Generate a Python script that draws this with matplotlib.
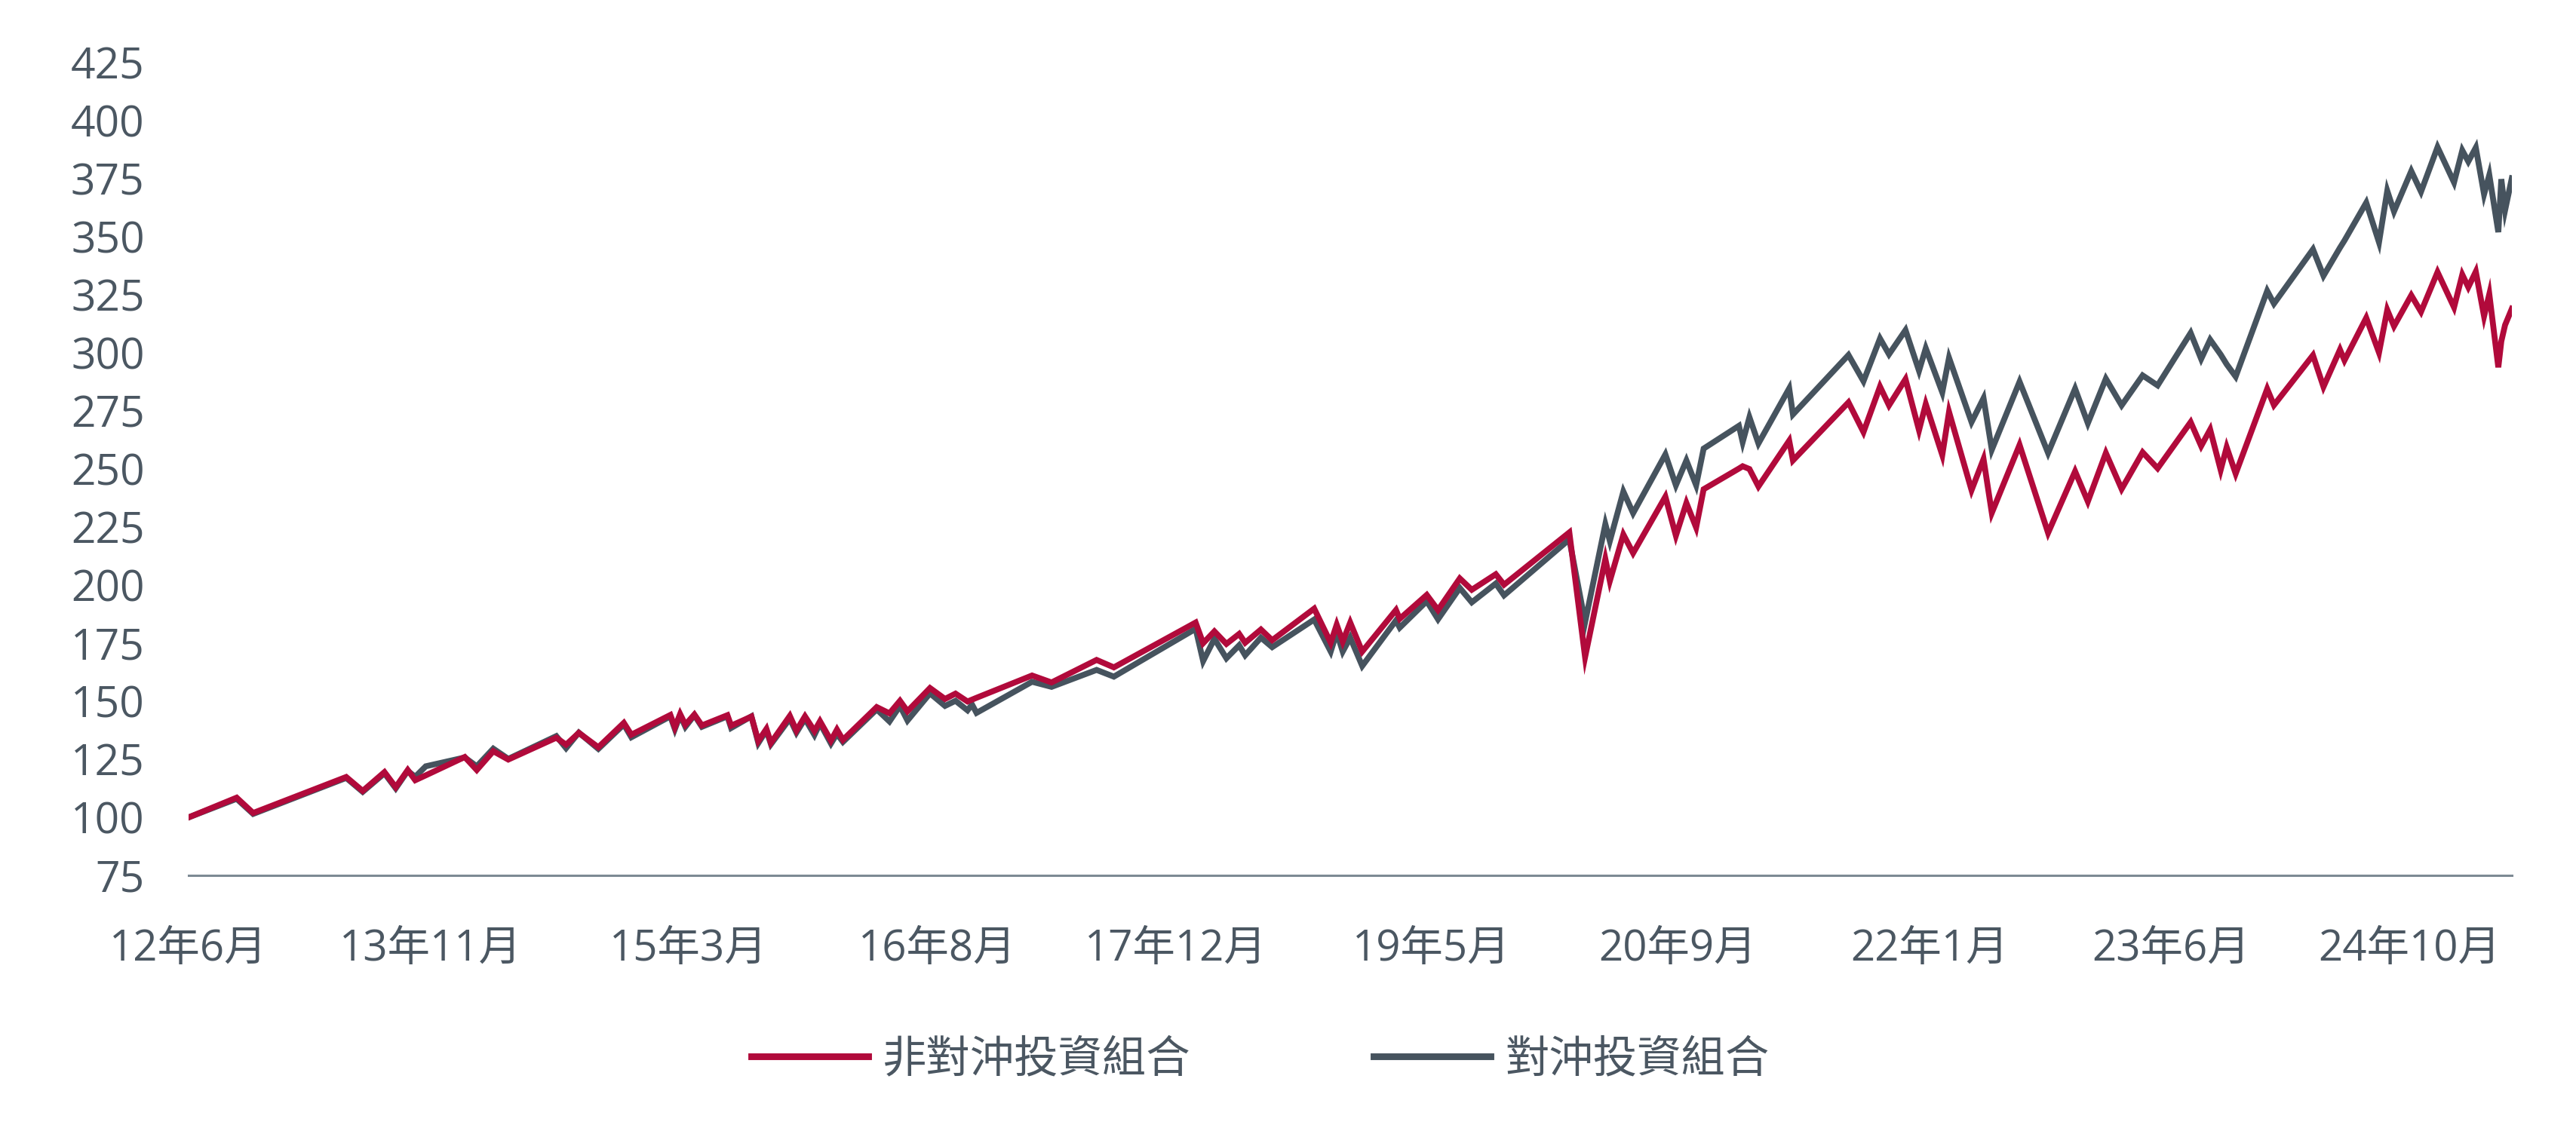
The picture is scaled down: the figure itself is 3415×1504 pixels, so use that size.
import matplotlib
matplotlib.use("Agg")
import matplotlib.pyplot as plt

# months elapsed since June 2012 (x position of each data point)
months = [0, 3.2, 4.3, 10.5, 11.6, 13.05, 13.8, 14.6, 15.1, 15.8, 18.4, 19.2, 20.3, 21.3,
          24.5, 25.15, 26.0, 27.3, 29.0, 29.5, 32.1, 32.4, 32.75, 33.1, 33.7, 34.2, 35.9,
          36.15, 37.5, 37.96, 38.5, 38.8, 40.06, 40.5, 41.07, 41.7, 42.07, 42.8, 43.2, 43.6,
          45.85, 46.7, 47.4, 47.9, 49.4, 50.4, 51.1, 51.9, 52.2, 52.5, 56.2, 57.5, 60.5,
          61.65, 67.1, 67.6, 68.35, 69.15, 70.0, 70.4, 71.45, 72.2, 75.0, 76.1, 76.5, 76.9,
          77.4, 78.2, 80.45, 80.7, 82.5, 83.25, 84.7, 85.5, 87.1, 87.65, 92.0, 93.05, 94.4,
          94.7, 95.6, 96.25, 98.4, 99.1, 99.8, 100.45, 100.95, 103.3, 103.55, 104.0, 104.6,
          106.65, 106.9, 110.6, 111.6, 112.7, 113.3, 114.4, 115.3, 115.75, 116.85, 117.3,
          118.8, 119.6, 120.15, 122.0, 123.9, 125.7, 126.55, 127.75, 128.8, 130.2, 131.2,
          133.4, 134.1, 134.7, 135.4, 135.8, 136.4, 138.5, 138.95, 141.55, 142.25, 143.35,
          143.65, 145.1, 145.95, 146.5, 146.95, 148.1, 148.75, 149.85, 150.95, 151.5, 151.9,
          152.4, 152.95, 153.3, 153.9, 154.1, 154.35, 154.8]

unhedged = [100, 108.5, 101.9, 117.4, 111.4, 119.5, 113.0, 120.4, 116.0, 118.1, 126.0, 120.4,
            128.5, 124.9, 134.3, 131.3, 136.4, 130.2, 140.7, 135.6, 144.1, 138.8, 144.5, 139.9,
            144.3, 139.6, 144.0, 139.5, 143.4, 132.9, 138.1, 132.1, 143.7, 137.4, 143.5, 137.2,
            141.4, 133.1, 137.8, 133.4, 147.5, 144.8, 150.2, 145.7, 155.7, 151.0, 153.3, 149.9,
            150.7, 151.5, 161.1, 158.1, 167.8, 164.6, 183.9, 175.0, 180.1, 174.7, 179.0, 175.2,
            180.9, 176.3, 189.9, 175.2, 183.0, 175.7, 183.9, 171.4, 189.3, 185.5, 195.8, 189.3,
            202.9, 198.0, 204.7, 200.2, 222.7, 169.0, 211.3, 201.8, 221.8, 213.8, 238.1, 221.3,
            235.4, 224.8, 241.3, 250.2, 251.2, 250.0, 242.5, 262.2, 253.7, 278.7, 265.9, 285.5,
            277.4, 288.7, 266.7, 278.0, 256.0, 274.6, 240.9, 254.3, 231.1, 260.4, 222.5, 249.0,
            236.0, 256.9, 241.4, 257.2, 250.3, 270.2, 259.9, 267.0, 249.6, 259.4, 248.0, 284.5,
            277.5, 299.0, 285.4, 301.4, 296.8, 315.1, 300.1, 318.5, 311.5, 324.8, 317.7, 334.8,
            319.6, 333.7, 328.3, 335.0, 315.8, 325.3, 293.8, 305.0, 312.0, 319.0]

hedged = [100, 108.0, 101.5, 117.0, 111.0, 119.0, 112.5, 120.0, 117.5, 122.0, 125.8, 122.0,
          129.6, 125.2, 135.0, 129.8, 136.5, 129.5, 140.0, 134.5, 143.5, 138.0, 144.0, 139.0,
          144.0, 139.0, 143.5, 138.5, 143.5, 132.0, 137.5, 131.5, 142.5, 136.5, 142.5, 135.5,
          140.5, 131.8, 136.0, 132.5, 146.5, 141.3, 148.0, 141.7, 153.4, 148.0, 150.2, 146.1,
          148.6, 145.0, 158.4, 156.2, 163.5, 160.6, 181.2, 167.3, 176.9, 168.5, 174.1, 169.8,
          177.4, 173.3, 185.2, 171.4, 179.6, 171.4, 177.4, 165.2, 184.8, 181.7, 193.1, 185.3,
          198.8, 192.6, 200.7, 195.6, 219.7, 184.0, 226.3, 219.0, 240.3, 231.0, 256.3, 243.0,
          253.7, 243.0, 258.8, 268.6, 261.6, 272.3, 261.0, 284.7, 273.5, 299.1, 287.8, 306.2,
          299.4, 309.8, 292.3, 302.0, 283.0, 297.9, 270.2, 280.5, 258.3, 287.6, 256.9, 284.6,
          269.7, 288.9, 277.4, 290.3, 286.0, 308.6, 297.4, 305.7, 299.3, 295.1, 289.8, 326.7,
          321.2, 344.6, 333.2, 345.3, 348.4, 364.7, 347.6, 369.8, 360.9, 378.3, 369.4, 388.6,
          373.4, 387.2, 382.4, 388.4, 368.3, 376.6, 352.0, 374.8, 361.4, 375.2]

tick_months = [0, 16.1, 33.3, 49.9, 65.8, 82.8, 99.2, 116.0, 132.1, 148.0]
tick_labels = ["12年6月", "13年11月", "15年3月", "16年8月", "17年12月",
               "19年5月", "20年9月", "22年1月", "23年6月", "24年10月"]
y_ticks = list(range(75, 426, 25))
series_names = ["非對沖投資組合", "對沖投資組合"]

RED = "#B10A3B"
GRAY = "#46535E"
TEXT = "#4B5762"

plt.rcParams["font.family"] = ["Open Sans", "Noto Sans CJK TC", "DejaVu Sans"]

fig = plt.figure(figsize=(17.08, 7.52), dpi=200)
ax = fig.add_axes([0.0732, 0.228, 0.9016, 0.7168])

ax.plot(months, hedged, color=GRAY, lw=2.8, solid_joinstyle="miter", label=series_names[1], zorder=2)
ax.plot(months, unhedged, color=RED, lw=2.8, solid_joinstyle="miter", label=series_names[0], zorder=3)

ax.set_xlim(0, months[-1])
ax.set_ylim(75, 425)
ax.set_yticks(y_ticks)
ax.set_xticks(tick_months)
ax.set_xticklabels(tick_labels)

for s in ["top", "right", "left"]:
    ax.spines[s].set_visible(False)
ax.spines["bottom"].set_color("#7D8A93")
ax.spines["bottom"].set_linewidth(1.1)

ax.tick_params(axis="y", length=0, pad=21, labelsize=20.5, labelcolor=TEXT)
ax.tick_params(axis="x", length=0, pad=25, labelsize=20.3, labelcolor=TEXT)

handles, labels = ax.get_legend_handles_labels()
order = [1, 0]
leg = fig.legend([handles[i] for i in order], [labels[i] for i in order],
                 loc="center", bbox_to_anchor=(0.489, 0.065), ncol=2, frameon=False,
                 fontsize=21, handlelength=2.66, handletextpad=0.33, columnspacing=4.15)
for t in leg.get_texts():
    t.set_color(TEXT)
for h in leg.get_lines():
    h.set_linewidth(3.2)

fig.savefig("out.png", dpi=200, facecolor="white")
